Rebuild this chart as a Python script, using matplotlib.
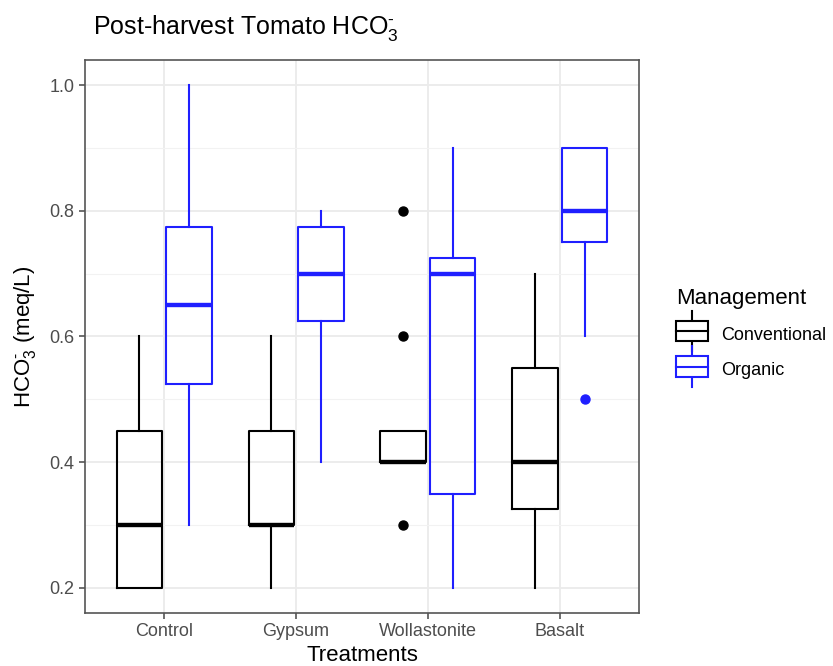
import matplotlib
matplotlib.use("Agg")
import matplotlib.pyplot as plt
from matplotlib.legend_handler import HandlerBase
from matplotlib.lines import Line2D
from matplotlib.patches import Rectangle

plt.rcParams['font.family'] = ['Liberation Sans', 'DejaVu Sans']
plt.rcParams['mathtext.fontset'] = 'custom'
plt.rcParams['mathtext.rm'] = 'Liberation Sans'
plt.rcParams['mathtext.it'] = 'Liberation Sans:italic'

treatments = ["Control", "Gypsum", "Wollastonite", "Basalt"]
groups = ["Conventional", "Organic"]
colors = {"Conventional": "black", "Organic": "#1f1fff"}

# five-number summaries: (whislo, q1, med, q3, whishi)
conv_stats = [(0.2, 0.2, 0.3, 0.45, 0.6),
              (0.2, 0.3, 0.3, 0.45, 0.6),
              (0.4, 0.4, 0.4, 0.45, 0.45),
              (0.2, 0.325, 0.4, 0.55, 0.7)]
org_stats = [(0.3, 0.525, 0.65, 0.775, 1.0),
             (0.4, 0.625, 0.7, 0.775, 0.8),
             (0.2, 0.35, 0.7, 0.725, 0.9),
             (0.6, 0.75, 0.8, 0.9, 0.9)]
conv_fliers = [[], [], [0.3, 0.6, 0.8], []]
org_fliers = [[], [], [], [0.5]]

fig = plt.figure(figsize=(8.33, 6.66), dpi=100)
ax = fig.add_axes([85/833, 1-613/666, (639-85)/833, (613-60)/666])

def make(stats, fliers):
    out = []
    for s, f in zip(stats, fliers):
        out.append(dict(whislo=s[0], q1=s[1], med=s[2], q3=s[3], whishi=s[4], fliers=f))
    return out

lw = 1.5
for g, stats, fl, off in [("Conventional", conv_stats, conv_fliers, -0.1875),
                          ("Organic", org_stats, org_fliers, 0.1875)]:
    c = colors[g]
    pos = [i + 1 + off for i in range(len(treatments))]
    ax.bxp(make(stats, fl), positions=pos, widths=0.345, showcaps=False,
           boxprops=dict(color=c, linewidth=lw),
           whiskerprops=dict(color=c, linewidth=lw),
           medianprops=dict(color=c, linewidth=lw*2.1, solid_capstyle='butt'),
           flierprops=dict(marker='o', markerfacecolor=c, markeredgecolor=c, markersize=6.5),
           manage_ticks=False, zorder=3)

ax.set_xlim(0.4, 4.6)
ax.set_ylim(0.16, 1.04)
ax.set_xticks(range(1, 5))
ax.set_xticklabels(treatments)
ax.set_yticks([0.2, 0.4, 0.6, 0.8, 1.0])
ax.set_yticklabels(["0.2", "0.4", "0.6", "0.8", "1.0"])
ax.set_yticks([0.3, 0.5, 0.7, 0.9], minor=True)
ax.grid(True, which='major', color='#EBEBEB', linewidth=1.3, zorder=0)
ax.grid(True, which='minor', axis='y', color='#F2F2F2', linewidth=0.8, zorder=0)
ax.set_axisbelow(True)
for sp in ax.spines.values():
    sp.set_color('#555555')
    sp.set_linewidth(1.2)
ax.tick_params(axis='both', which='major', labelsize=13, labelcolor='#4D4D4D',
               color='#555555', length=4, width=1.2)
ax.tick_params(axis='y', which='minor', length=0)
ax.set_xlabel("Treatments", fontsize=16, labelpad=3)
ax.set_ylabel(r"HCO$_3^{\text{-}}$ (meq/L)", fontsize=16, labelpad=8)
fig.text(93/833, 1-28/666, r"Post-harvest Tomato HCO$_3^{\text{-}}$", fontsize=18, va='center', ha='left')

class BoxHandler(HandlerBase):
    def create_artists(self, legend, orig_handle, xdescent, ydescent, width, height, fontsize, trans):
        c = orig_handle.get_color()
        w = width
        h = 15
        x0 = -xdescent
        y0 = -ydescent + (height - h) / 2 + 2
        cx = x0 + w / 2
        s = 7
        arts = [
            Line2D([cx, cx], [y0 - s, y0], color=c, lw=lw, transform=trans),
            Line2D([cx, cx], [y0 + h, y0 + h + s], color=c, lw=lw, transform=trans),
            Rectangle((x0, y0), w, h, facecolor='white', edgecolor=c, lw=lw, transform=trans),
            Line2D([x0, x0 + w], [y0 + h/2, y0 + h/2], color=c, lw=lw, transform=trans),
        ]
        return arts

handles = [Line2D([], [], color=colors[g]) for g in groups]
leg = fig.legend(handles, groups, handler_map={Line2D: BoxHandler()},
                 loc='upper left', bbox_to_anchor=(660/833, 1-272/666),
                 frameon=False, title="Management", fontsize=13, title_fontsize=16,
                 handlelength=1.75, handleheight=1.5, labelspacing=0.75, handletextpad=0.75)
leg._legend_box.align = "left"

fig.savefig("out.png", dpi=100)
